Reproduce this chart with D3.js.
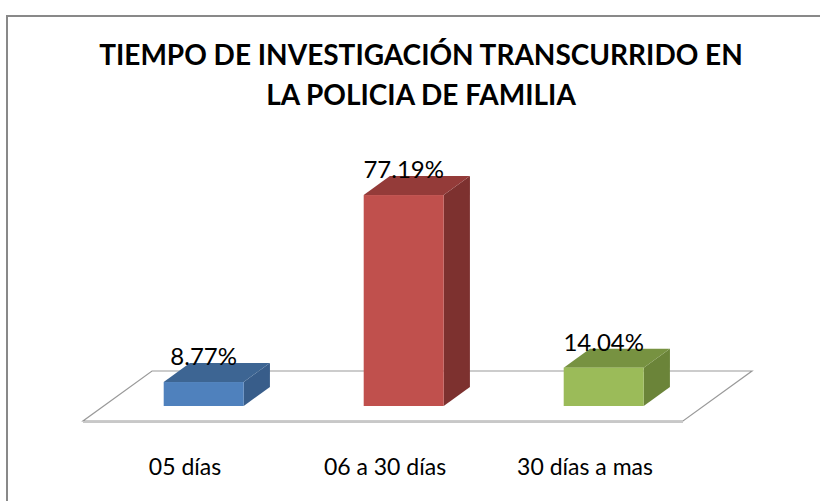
<!DOCTYPE html>
<html>
<head>
<meta charset="utf-8">
<script src="https://cdn.jsdelivr.net/npm/d3@7"></script>
<style>
  html, body { margin: 0; padding: 0; background: #fff; }
  svg { display: block; font-family: Lato, "Open Sans", sans-serif; }
</style>
</head>
<body>
<div id="chart"></div>
<script>
// data
const categories = ['05 días', '06 a 30 días', '30 días a mas'];
const values     = [8.77, 77.19, 14.04];
const valueLabels = ['8.77%', '77.19%', '14.04%'];
const titleLines = ['TIEMPO DE INVESTIGACIÓN TRANSCURRIDO EN', 'LA POLICIA DE FAMILIA'];

const colors = [
    { front: '#4f81bd', top: '#3d6593', side: '#385d8a' },
    { front: '#c0504d', top: '#943b39', side: '#7d312f' },
    { front: '#9bbb59', top: '#779241', side: '#6b8439' }
];

const width = 820, height = 501;

// floor: front edge and depth vector
const floorLeft = 83, floorRight = 683, floorFrontY = 421;
const depthX = 69, depthY = -50;
const barNear = 0.3, barFar = 0.68;   // depth fractions occupied by bars
const baseY = floorFrontY + depthY * barNear;

const svg = d3.select('#chart')
    .append('svg')
      .attr('width', width)
      .attr('height', height);

// outer frame (runs off the right / bottom)
svg.append('rect')
    .attr('x', 7).attr('y', 16)
    .attr('width', 830).attr('height', 500)
    .attr('fill', 'none')
    .attr('stroke', '#898989')
    .attr('stroke-width', 2);

// title
svg.append('g')
    .selectAll('text')
    .data(titleLines)
    .enter()
    .append('text')
      .attr('x', 421)
      .attr('y', (d, i) => 65 + i * 40)
      .attr('text-anchor', 'middle')
      .style('font-weight', 'bold')
      .style('font-size', '28px')
      .attr('fill', '#000')
      .text(d => d);

const x = d3.scaleBand()
    .domain(categories)
    .range([floorLeft, floorRight])
    .paddingInner(0.6)
    .paddingOuter(0.3);

const y = d3.scaleLinear()
    .domain([0, 100])
    .range([baseY, baseY - 273.3]);

// floor plane
const floorPts = [
    [floorLeft, floorFrontY],
    [floorRight, floorFrontY],
    [floorRight + depthX, floorFrontY + depthY],
    [floorLeft + depthX, floorFrontY + depthY]
];
svg.append('polygon')
    .attr('points', floorPts.map(p => p.join(',')).join(' '))
    .attr('fill', '#fff')
    .attr('stroke', '#9a9a9a')
    .attr('stroke-width', 1.2);

svg.append('line')
    .attr('x1', floorLeft).attr('y1', floorFrontY + 1)
    .attr('x2', floorRight).attr('y2', floorFrontY + 1)
    .attr('stroke', '#c8c8c8')
    .attr('stroke-width', 2);

// bars
const dx0 = depthX * barNear, dy0 = depthY * barNear;
const ddx = depthX * (barFar - barNear), ddy = depthY * (barFar - barNear);

const bars = svg.selectAll('.bar')
    .data(values)
    .enter()
    .append('g')
    .attr('class', 'bar');

const pts = a => a.map(p => p.join(',')).join(' ');

bars.append('polygon')   // side
    .attr('points', (d, i) => {
        const x1 = x(categories[i]) + dx0 + x.bandwidth();
        return pts([[x1, y(d)], [x1 + ddx, y(d) + ddy], [x1 + ddx, baseY + ddy], [x1, baseY]]);
    })
    .attr('fill', (d, i) => colors[i].side);

bars.append('polygon')   // top
    .attr('points', (d, i) => {
        const x0 = x(categories[i]) + dx0, x1 = x0 + x.bandwidth();
        return pts([[x0, y(d)], [x1, y(d)], [x1 + ddx, y(d) + ddy], [x0 + ddx, y(d) + ddy]]);
    })
    .attr('fill', (d, i) => colors[i].top);

bars.append('rect')      // front
    .attr('x', (d, i) => x(categories[i]) + dx0)
    .attr('y', d => y(d))
    .attr('width', x.bandwidth())
    .attr('height', d => baseY - y(d))
    .attr('fill', (d, i) => colors[i].front);

// value labels
bars.append('text')
    .attr('x', (d, i) => x(categories[i]) + dx0 + x.bandwidth() / 2)
    .attr('y', d => y(d) - 17)
    .attr('text-anchor', 'middle')
    .style('font-size', '24px')
    .attr('fill', '#000')
    .text((d, i) => valueLabels[i]);

// category labels along the front of the floor
svg.append('g')
    .selectAll('text')
    .data(categories)
    .enter()
    .append('text')
      .attr('x', d => x(d) + x.bandwidth() / 2 + 2)
      .attr('y', 475)
      .attr('text-anchor', 'middle')
      .style('font-size', '23px')
      .attr('fill', '#000')
      .text(d => d);
</script>
</body>
</html>
